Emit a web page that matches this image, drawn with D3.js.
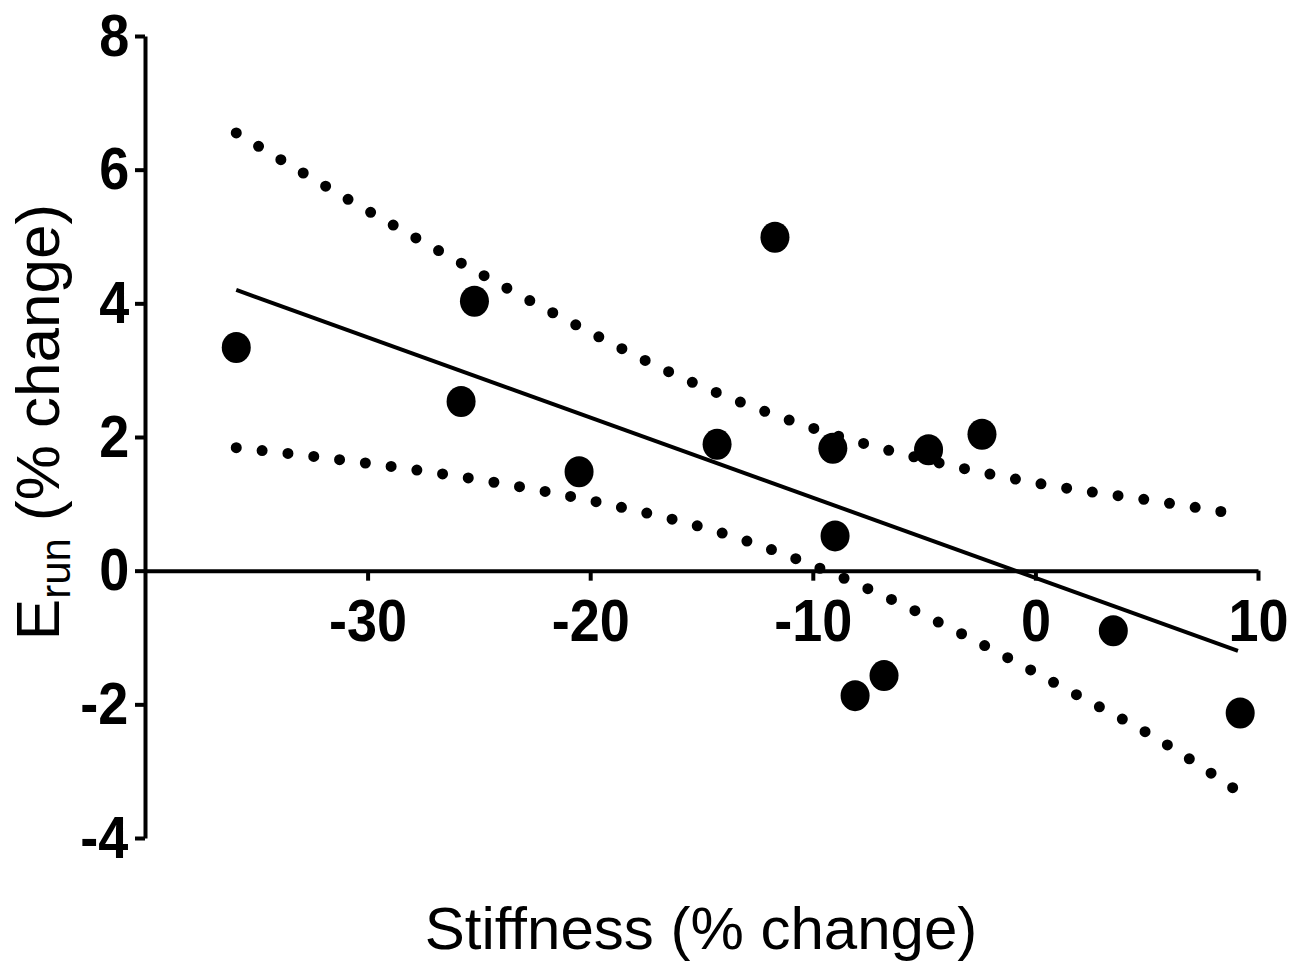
<!DOCTYPE html>
<html>
<head>
<meta charset="utf-8">
<script src="https://cdn.jsdelivr.net/npm/d3@7"></script>
<style>
  body { margin: 0; background: #fff; }
  .tick text {
    transform-box: fill-box;
    transform-origin: center;
    transform: scaleX(0.9);
  }
</style>
</head>
<body>
<div class="canvas"></div>
<script>
// scatter points (stiffness % change vs Erun % change)
const stiffness = [-35.9, -25.2, -25.8, -20.5, -14.3, -11.7, -9.1, -9.0, -8.1, -6.8, -4.8, -2.4, 3.5, 9.2];
const erun = [3.34, 4.03, 2.53, 1.48, 1.89, 4.99, 1.83, 0.52, -1.87, -1.57, 1.81, 2.04, -0.90, -2.13];

// fitted line ends
const fitX = [-35.9, 9.1];
const fitY = [4.20, -1.20];

// 95% band
const upperX = [-35.9, -31.0, -26.0, -21.0, -15.9, -10.6, -5.3, 0.25, 5.8, 8.8];
const upperY = [6.55, 5.58, 4.64, 3.74, 2.89, 2.20, 1.69, 1.30, 1.02, 0.86];
const lowerX = [-35.9, -30.3, -24.8, -19.3, -13.85, -8.55, -3.4, 1.7, 5.6, 9.05];
const lowerY = [1.84, 1.62, 1.35, 1.00, 0.54, -0.12, -0.93, -1.83, -2.54, -3.29];

// tick values
const xTicks = [-30, -20, -10, 0, 10];
const yTicks = [-4, -2, 0, 2, 4, 6, 8];

const svg = d3.select('.canvas')
  .append('svg')
  .attr('width', 1299)
  .attr('height', 966);

const x = d3.scaleLinear().domain([-40, 10]).range([145, 1258]);
const y = d3.scaleLinear().domain([-4, 8]).range([838, 36]);

const font = '"Liberation Sans", Arial, Helvetica, sans-serif';
// plain hyphen for negatives, like the original
const fmt = d => String(d);

// y axis on the left edge
const yAxis = svg.append('g')
  .attr('transform', `translate(${x(-40)},0)`)
  .call(d3.axisLeft(y).tickValues(yTicks).tickFormat(fmt)
    .tickSize(10).tickSizeOuter(0).tickPadding(4));

// x axis through zero
const xAxis = svg.append('g')
  .attr('transform', `translate(0,${y(0)})`)
  .call(d3.axisBottom(x).tickValues(xTicks).tickFormat(fmt)
    .tickSize(10).tickSizeOuter(0).tickPadding(18));

[xAxis, yAxis].forEach(ax => {
  ax.select('.domain').attr('stroke', '#000').attr('stroke-width', 4);
  ax.selectAll('.tick line').attr('stroke', '#000').attr('stroke-width', 4);
  ax.selectAll('.tick text')
    .attr('fill', '#000')
    .attr('font-family', font)
    .attr('font-weight', 'bold')
    .attr('font-size', 60);
});

// confidence band dotted curves
const band = d3.line()
  .x(d => x(d[0]))
  .y(d => y(d[1]))
  .curve(d3.curveMonotoneX);

[[upperX, upperY], [lowerX, lowerY]].forEach(([bx, by]) => {
  svg.append('path')
    .attr('d', band(bx.map((v, i) => [v, by[i]])))
    .attr('fill', 'none')
    .attr('stroke', '#000')
    .attr('stroke-width', 11)
    .attr('stroke-linecap', 'round')
    .attr('stroke-dasharray', '0 26');
});

// regression line
svg.append('line')
  .attr('x1', x(fitX[0])).attr('y1', y(fitY[0]))
  .attr('x2', x(fitX[1])).attr('y2', y(fitY[1]))
  .attr('stroke', '#000')
  .attr('stroke-width', 4);

// points
svg.append('g')
  .selectAll('ellipse')
  .data(stiffness.map((v, i) => ({ sx: v, ey: erun[i] })))
  .enter()
  .append('ellipse')
    .attr('cx', d => x(d.sx))
    .attr('cy', d => y(d.ey))
    .attr('rx', 14.5)
    .attr('ry', 15.5)
    .attr('fill', '#000');

// axis titles
svg.append('text')
  .attr('x', 701)
  .attr('y', 949)
  .attr('text-anchor', 'middle')
  .attr('font-family', font)
  .attr('font-size', 60)
  .attr('fill', '#000')
  .text('Stiffness (% change)');

const yTitle = svg.append('text')
  .attr('transform', 'translate(59,422) rotate(-90)')
  .attr('text-anchor', 'middle')
  .attr('font-family', font)
  .attr('font-size', 62)
  .attr('fill', '#000');
yTitle.append('tspan').text('E');
yTitle.append('tspan').attr('dy', 11).attr('font-size', 42).text('run');
yTitle.append('tspan').attr('dy', -11).text(' (% change)');
</script>
</body>
</html>
